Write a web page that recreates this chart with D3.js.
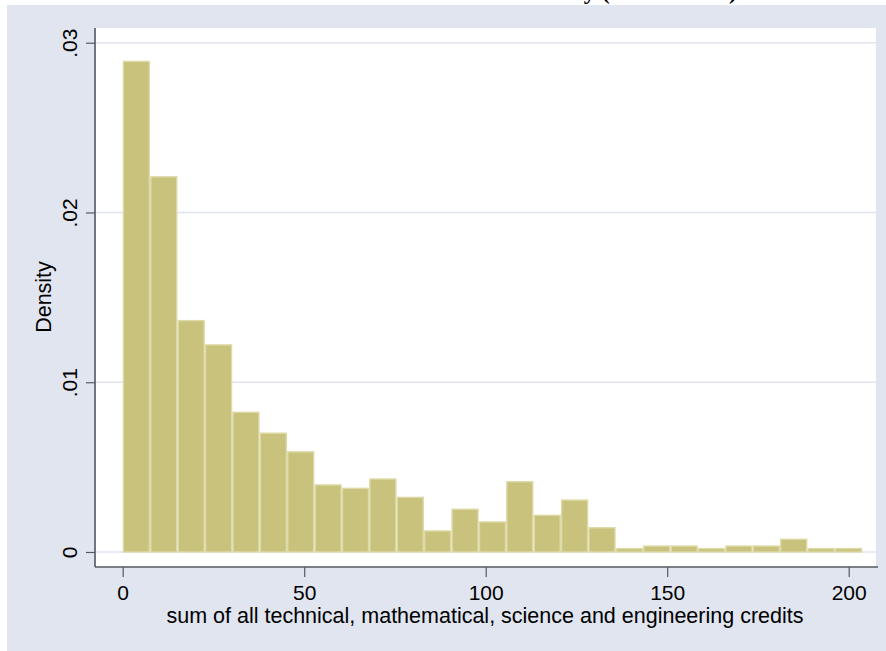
<!DOCTYPE html>
<html>
<head>
<meta charset="utf-8">
<script src="https://cdn.jsdelivr.net/npm/d3@7"></script>
<style>
  body { margin: 0; background: #fff; }
  text { font-family: Arial, "Liberation Sans", sans-serif; }
</style>
</head>
<body>
<svg id="chart" width="886" height="651"></svg>
<script>
// histogram of credits, 27 bins starting at 0
const binWidth = 7.545;
const densities = [
  0.0289, 0.0221, 0.01363, 0.0122, 0.00823, 0.0070, 0.0059, 0.00395, 0.00375,
  0.0043, 0.00322, 0.00124, 0.00252, 0.00177, 0.00414, 0.00216, 0.00306, 0.00143,
  0.0002, 0.00035, 0.00035, 0.0002, 0.00035, 0.00035, 0.00075, 0.0002, 0.0002
];
const xTicks = [0, 50, 100, 150, 200];
const yTicks = [0, 0.01, 0.02, 0.03];
const yTickLabels = ['0', '.01', '.02', '.03'];
const xTitle = 'sum of all technical, mathematical, science and engineering credits';
const yTitle = 'Density';
const chartTitle = 'STEM credits of students with low ability (bottom half)';

const svg = d3.select('#chart');

// outer graph region
svg.append('rect')
   .attr('x', 7).attr('y', 5)
   .attr('width', 879).attr('height', 646)
   .attr('fill', '#e0e5f0');

// title, mostly cut off at top of image
svg.append('text')
   .attr('x', 737).attr('y', -1)
   .attr('text-anchor', 'end')
   .style('font-family', '"Liberation Serif", "Times New Roman", serif')
   .style('font-weight', 'bold')
   .style('font-size', '24px')
   .text(chartTitle);

// plot region
const plot = { left: 96, right: 876, top: 28, bottom: 567 };
svg.append('rect')
   .attr('x', plot.left).attr('y', plot.top)
   .attr('width', plot.right - plot.left).attr('height', plot.bottom - plot.top)
   .attr('fill', '#ffffff');

const x = d3.scaleLinear().domain([0, 200]).range([122.7, 848.7]);
const y = d3.scaleLinear().domain([0, 0.03]).range([552, 42.7]);

// gridlines
svg.append('g').attr('class', 'grid')
   .selectAll('line')
   .data(yTicks)
   .join('line')
   .attr('x1', plot.left).attr('x2', plot.right)
   .attr('y1', d => y(d)).attr('y2', d => y(d))
   .attr('stroke', '#dfe4ef')
   .attr('stroke-width', 1.6);

// bars
svg.append('g').attr('class', 'bars')
   .selectAll('rect')
   .data(densities)
   .join('rect')
   .attr('x', (d, i) => x(i * binWidth) + 0.7)
   .attr('width', (d, i) => x((i + 1) * binWidth) - x(i * binWidth) - 1.4)
   .attr('y', d => y(d))
   .attr('height', d => y(0) - y(d))
   .attr('fill', '#c9c27d')
   .attr('stroke', '#dedaa8')
   .attr('stroke-width', 1.4);

// y axis
const yAxis = d3.axisLeft(y)
   .tickValues(yTicks)
   .tickSize(9)
   .tickPadding(0)
   .tickFormat((d, i) => yTickLabels[i]);
const yG = svg.append('g')
   .attr('transform', `translate(${plot.left - 1},0)`)
   .call(yAxis);
yG.select('.domain').remove();
yG.append('line')
   .attr('x1', 0).attr('x2', 0)
   .attr('y1', plot.top).attr('y2', plot.bottom)
   .attr('stroke', '#555a5f').attr('stroke-width', 1.6);
yG.selectAll('.tick line').attr('stroke', '#555a5f').attr('stroke-width', 1.2);
yG.selectAll('.tick text')
   .attr('x', 0).attr('y', 0).attr('dy', 0)
   .attr('transform', 'translate(-18,0) rotate(-90)')
   .attr('text-anchor', 'middle')
   .attr('fill', '#000')
   .style('font-size', '21px');

// x axis
const xAxis = d3.axisBottom(x)
   .tickValues(xTicks)
   .tickSize(10)
   .tickPadding(0);
const xG = svg.append('g')
   .attr('transform', `translate(0,${plot.bottom})`)
   .call(xAxis);
xG.select('.domain').remove();
xG.append('line')
   .attr('x1', plot.left - 1).attr('x2', 878)
   .attr('y1', 0).attr('y2', 0)
   .attr('stroke', '#555a5f').attr('stroke-width', 1.6);
xG.selectAll('.tick line').attr('stroke', '#555a5f').attr('stroke-width', 1.2);
xG.selectAll('.tick text')
   .attr('y', 33).attr('dy', 0)
   .attr('fill', '#000')
   .style('font-size', '21px');

// axis titles
svg.append('text')
   .attr('x', 485).attr('y', 623)
   .attr('text-anchor', 'middle')
   .style('font-size', '21.5px')
   .text(xTitle);

svg.append('text')
   .attr('transform', 'translate(51,297) rotate(-90)')
   .attr('text-anchor', 'middle')
   .style('font-size', '21.5px')
   .text(yTitle);
</script>
</body>
</html>
